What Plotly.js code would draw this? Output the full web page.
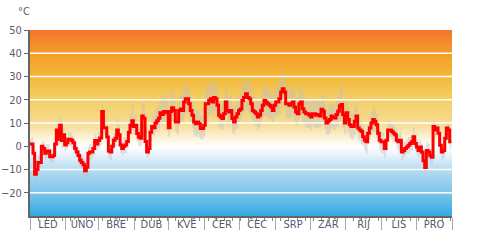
<!DOCTYPE html>
<html><head><meta charset="utf-8">
<script src="https://cdn.plot.ly/plotly-3.0.1.min.js"></script>
<style>html,body{margin:0;padding:0;background:#fff}#chart{width:480px;height:246px}</style>
</head><body><div id="chart"></div>
<script>
const days=[0,1.2,2.6,4,5.5,6.9,8.4,9.8,11.2,12.7,14.1,15.6,17,18.4,19.9,21.3,22.8,24.2,25.6,27.1,28.5,30,31.4,32.8,34.3,35.7,37.1,38.6,40,41.5,42.9,44.3,45.8,47.2,48.7,50.1,51.5,53,54.4,55.9,57.3,58.7,60.2,
62,63.5,64.9,66.4,67.8,69.2,70.7,72.1,73.6,75,76.4,77.9,79.3,80.8,82.2,83.6,85.1,86.5,88,89.4,90.8,92.3,93.7,95.2,96.6,98,99.5,100.9,102.4,103.8,105.2,106.7,108.1,109.6,111,112.4,113.9,115.3,116.8,118.2,119.6,121.1,122.5,
124.2,125.7,127.1,128.6,130,131.4,132.9,134.3,135.8,137.2,138.6,140.1,141.5,143,144.4,145.8,147.3,148.7,150.2,151.6,153,154.5,155.9,157.4,158.8,160.2,161.7,163.1,164.6,166,167.4,168.9,170.3,171.8,173.2,174.6,176.1,177.5,179,180.4,181.8,183.3,184.7,
186.5,188,189.4,190.9,192.3,193.7,195.2,196.6,198,199.5,200.9,202.4,203.8,205.2,206.7,208.1,209.6,211,212.5,213.9,215.3,216.8,218.2,219.7,221.1,222.5,224,225.4,226.9,228.3,229.7,231.2,232.6,234,235.5,236.9,238.4,239.8,241.2,242.7,244.1,245.6,247,
248.8,250.3,251.7,253.2,254.6,256,257.5,258.9,260.4,261.8,263.2,264.7,266.1,267.6,269,270.4,271.9,273.3,274.8,276.2,277.6,279.1,280.5,282,283.4,284.8,286.3,287.7,289.2,290.6,292,293.5,294.9,296.4,297.8,299.2,300.7,302.1,303.6,305,306.4,307.9,309.3,
310.8,312.6,314,315.5,316.9,318.3,319.8,321.2,322.7,324.1,325.5,327,328.4,329.9,331.3,332.7,334.2,335.6,337.1,338.5,339.9,341.4,342.8,344.3,345.7,347.1,348.6,350,351.5,352.9,354.3,355.8,357.2,358.7,360.1,361.5,363,364.5];
const tMean=[1,1,-3,-12,-10,-7,-7,0,-1,-3,-2,-2,-4.5,-4.5,-4,1,7,3,9,2.5,5,0.5,1.5,3,3,2.5,1.5,-1,-2.5,-4,-6,-7,-8,-10.5,-9,-3,-2.5,-2.5,-1,2.5,1,2.5,3.5,
15,8,8,4,-2,-2.5,0,2.6,3.4,7,5,0.5,-1,0,0.5,2,6,9,11,8.5,9,5.5,4,3.4,13,12,2,-2.5,-1,6,8.5,8,10,11,12,14.4,13.7,15,14.4,15,8,15,16.6,
15.4,10.4,10.4,15.4,16,15.4,19,20.4,20.4,18.3,15.4,13.3,10.4,9.7,10.4,9.7,7.6,7.6,9,18.3,18.3,19.7,20.4,19,21,20.4,17.6,13.3,12.6,11.9,14,19,15.4,14.7,15.4,11.9,10.4,12.6,14,15.4,16,19.7,21,
22.6,21,20.4,18.3,15.4,14.7,14,12.6,13.3,15.4,17.6,19.7,19,18.3,17.6,16.9,15.4,17.6,19,19,20.4,23.3,24.7,23.3,18.3,18.3,17.6,18.3,19,16.9,14.7,14,18.3,19,16.1,14.7,14,14,13.3,12.6,14,14,13.3,
13.7,13,15.9,15.1,12.2,10,10.7,11.5,13,12.2,12.2,13.7,15.1,17.4,18,13.7,10,14.4,11.5,9.3,8.5,8.5,10.7,13,7.8,7,6.3,4.1,2.6,1.9,5.6,7.8,10,11.5,10.7,9.3,5.6,2.6,1.9,1.9,-1,2.6,7,
7,6.3,5.6,4.9,2.6,1.9,2.6,-2.5,-1.8,-1,-0.3,0.4,1.2,1.9,4.1,1.2,-0.3,-1.8,-0.3,-2.5,-6.2,-9.1,-1.8,-2.5,-4,-4.7,8.5,7,7.8,5.6,0.4,-2.5,-1.8,3.4,7.8,7,1.9,1.9];
const tMax=[3,4,0,-8,-6,-4,-3,2,2,0,1,1,-1,-2,-1,4,11,7,13,6,8,4,4,6,6,5,4,2,0,-1,-3,-4,-5,-7,-5,0,1,1,2,5,4,6,8,
18,12,12,8,2,1,4,6,8,12,9,4,2,4,4,6,11,14,18,13,14,10,8,8,19,18,7,1,3,11,14,13,16,17,19,21,20,22,21,23,14,22,24,
22,16,16,22,23,22,26,27,26,25,22,19,16,15,16,15,13,13,15,25,25,27,28,26,28,27,24,19,18,18,21,26,22,21,22,18,17,19,21,22,23,27,28,
30,28,27,25,22,21,21,19,20,22,25,27,26,25,24,23,22,24,26,26,28,31,32,30,25,25,24,25,26,24,21,21,25,26,23,21,21,20,20,19,21,20,20,
20,19,22,22,18,16,17,18,19,18,18,20,22,25,26,20,16,20,17,15,14,14,17,19,13,12,11,9,7,6,10,13,15,17,16,14,10,7,6,6,3,6,11,
10,9,9,8,6,5,6,1,2,2,3,4,4,5,8,5,3,2,3,1,-3,-6,2,1,-1,-1,11,10,10,9,4,1,2,7,10,10,5,5];
const tMin=[-1,-3,-7,-15,-13,-10,-9,-3,-4,-6,-5,-5,-7,-7,-7,-2,3,0,5,-1,1,-2,-1,0,0,-1,-1,-4,-5,-7,-9,-10,-12,-14,-13,-7,-6,-5,-4,-1,-2,-1,0,
10,5,4,0,-5,-6,-3,0,0,3,2,-3,-4,-3,-3,-1,2,5,7,5,5,2,0,0,8,7,-2,-5,-4,2,5,4,6,7,8,10,9,10,10,10,4,10,11,
10,6,5,10,11,10,13,14,15,13,10,8,5,4,5,4,3,3,4,12,12,13,14,13,15,14,12,8,7,7,9,13,10,9,10,6,5,7,8,10,11,14,15,
16,15,14,12,10,9,9,7,8,10,12,13,13,12,12,11,10,12,13,13,14,17,18,17,12,12,12,12,13,11,9,9,12,13,10,9,8,8,8,7,9,8,8,
8,8,10,9,7,5,5,6,8,7,7,8,9,11,12,8,5,9,6,4,3,3,5,8,3,2,1,0,-2,-3,1,3,5,6,6,4,1,-2,-3,-3,-5,-2,3,
4,3,2,1,-1,-2,-1,-6,-5,-4,-3,-3,-2,-2,1,-2,-4,-5,-4,-6,-9,-12,-5,-6,-7,-8,5,4,5,2,-3,-6,-5,0,5,4,-1,-1];
const monthStarts=[0,31,59,90,120,151,181,212,243,273,304,334,365];
const monthLabels=['LED','ÚNO','BŘE','DUB','KVĚ','ČER','ČEC','SRP','ZÁŘ','ŘÍJ','LIS','PRO'];
const yTicks=[-20,-10,0,10,20,30,40,50];
const gridVals=[-20,-10,10,20,30,40];
const gradStops=[-35,-30,-20,-10,-4,0,4,8,12,20,30,40,50,55];
const gradColors=['#2aa6e0','#30a9e1','#7cc3ea','#b4dbf1','#e2f0f9','#ffffff','#fdf2d8','#f8e2a6','#f5d888','#f4d068','#f3b93b','#f39e27','#f2762c','#f26a2c'];

const monthMid=monthLabels.map((_,i)=>(monthStarts[i]+monthStarts[i+1])/2);
const gMin=gradStops[0], gMax=gradStops[gradStops.length-1];
const colorscale=gradStops.map((v,i)=>[(v-gMin)/(gMax-gMin),gradColors[i]]);
const xEnd=monthStarts[monthStarts.length-1];

const gx=[],gy=[];
gridVals.forEach(v=>{gx.push(0,xEnd,null);gy.push(v,v,null);});

const font={family:'DejaVu Sans Condensed, DejaVu Sans, sans-serif',size:11,color:'#5a5a70'};

const traces=[
 {type:'heatmap',x:[0,xEnd],y:gradStops,z:gradStops.map(v=>[v,v]),colorscale:colorscale,zmin:gMin,zmax:gMax,zsmooth:'best',showscale:false,hoverinfo:'skip'},
 {type:'scatter',mode:'lines',x:days,y:tMin,line:{width:0,shape:'hv'},hoverinfo:'skip',showlegend:false},
 {type:'scatter',mode:'lines',x:days,y:tMax,fill:'tonexty',fillcolor:'rgba(190,190,190,0.45)',line:{width:0,shape:'hv'},hoverinfo:'skip',showlegend:false},
 {type:'scatter',mode:'lines',x:gx,y:gy,line:{color:'#ffffff',width:1.5},hoverinfo:'skip',showlegend:false},
 {type:'scatter',mode:'lines',x:days,y:tMean,line:{color:'#ff0000',width:3,shape:'hv'},showlegend:false},
 {type:'scatter',mode:'lines',x:[monthMid[0]],y:[null],xaxis:'x2',showlegend:false,hoverinfo:'skip'}
];

const layout={
 width:480,height:246,margin:{l:30,r:28,t:30,b:30},
 paper_bgcolor:'#ffffff',plot_bgcolor:'#ffffff',font:font,showlegend:false,
 xaxis:{range:[0,xEnd],tickmode:'array',tickvals:monthStarts,showticklabels:false,ticks:'outside',ticklen:12,tickwidth:1,tickcolor:'#aaaaaa',
   showgrid:false,zeroline:false,showline:true,linecolor:'#666666',linewidth:2,
   minor:{tickmode:'linear',tick0:0,dtick:7,ticks:'outside',ticklen:3,tickcolor:'#888888',showgrid:false}},
 xaxis2:{overlaying:'x',anchor:'y',side:'bottom',range:[0,xEnd],tickmode:'array',tickvals:monthMid,ticktext:monthLabels,ticks:'',
   showgrid:false,zeroline:false,showline:false,tickfont:font},
 yaxis:{range:[-30,50],tickmode:'array',tickvals:yTicks,ticks:'outside',ticklen:4,tickcolor:'#666666',showgrid:false,zeroline:false,
   showline:true,linecolor:'#666666',linewidth:2,tickfont:font},
 annotations:[{text:'°C',xref:'paper',yref:'paper',x:0,y:1,xanchor:'right',yanchor:'bottom',xshift:2,yshift:10,showarrow:false,font:font}]
};
Plotly.newPlot('chart',traces,layout,{staticPlot:true,displayModeBar:false});
</script></body></html>
